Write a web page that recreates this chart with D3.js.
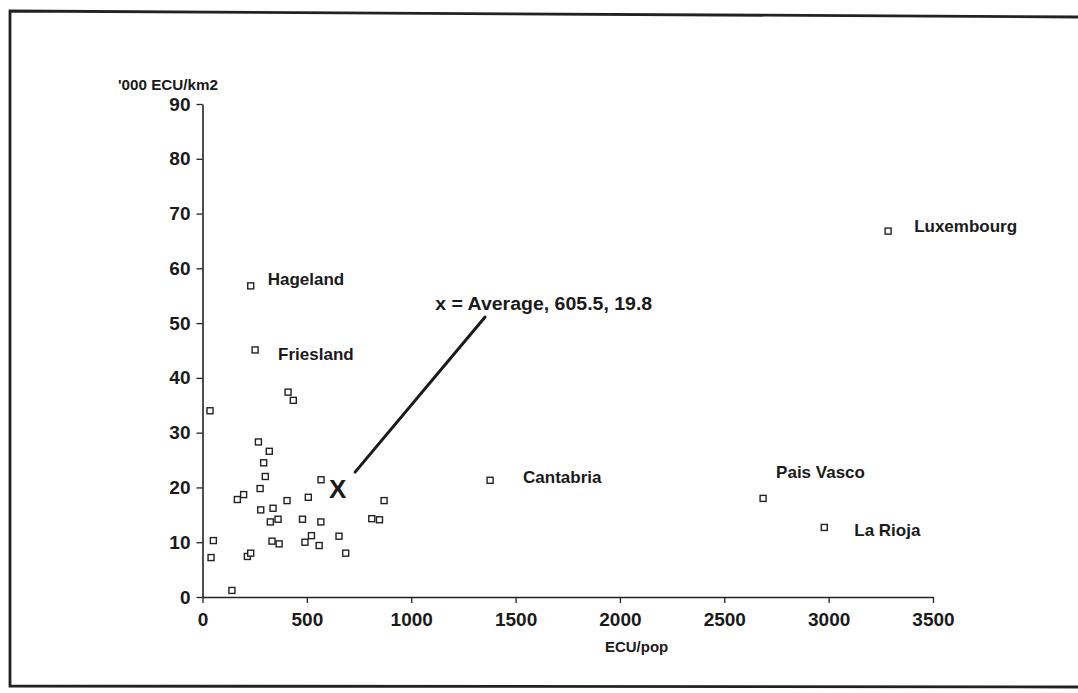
<!DOCTYPE html>
<html>
<head>
<meta charset="utf-8">
<script src="https://cdn.jsdelivr.net/npm/d3@7"></script>
<style>
  html, body { margin: 0; padding: 0; background: #fff; }
  svg { display: block; }
  text { font-family: "Liberation Sans", Arial, Helvetica, sans-serif; fill: #1a1a1a; }
</style>
</head>
<body>
<svg id="chart" width="1078" height="693"></svg>
<script>
// ---- data ----
const ecuPop = [36, 410, 435, 268, 320, 293, 301, 568, 276, 167, 197, 507, 405, 870, 279, 338, 325, 362, 479, 567, 811, 848, 333, 367, 491, 522, 559, 654, 686, 52, 41, 215, 231, 141];
const ecuKm2 = [34.0, 37.4, 35.9, 28.3, 26.6, 24.5, 22.0, 21.4, 19.8, 17.8, 18.7, 18.2, 17.6, 17.6, 15.9, 16.2, 13.7, 14.2, 14.2, 13.7, 14.3, 14.1, 10.2, 9.7, 10.0, 11.2, 9.4, 11.1, 8.0, 10.3, 7.2, 7.4, 8.0, 1.2];

const namedRegions = ["Hageland", "Friesland", "Cantabria", "Pais Vasco", "La Rioja", "Luxembourg"];
const namedEcuPop  = [231, 252, 1378, 2686, 2979, 3285];
const namedEcuKm2  = [56.8, 45.1, 21.3, 18.0, 12.7, 66.8];

const average = [605.5, 19.8];
const averageText = "x = Average, 605.5, 19.8";
const averageTextAt = [1115, 52.4];
const leaderFrom = [731, 22.8];
const leaderTo = [1354, 51.1];

const xTicks = [0, 500, 1000, 1500, 2000, 2500, 3000, 3500];
const yTicks = [0, 10, 20, 30, 40, 50, 60, 70, 80, 90];
const xTitle = "ECU/pop";
const yTitle = "'000 ECU/km2";

// ---- layout ----
const svg = d3.select("#chart");
const x = d3.scaleLinear().domain([0, 3500]).range([202.5, 933]);
const y = d3.scaleLinear().domain([0, 90]).range([597, 104]);

// label offsets (px) relative to the marker
const labelOffset = {
  "Hageland":   [17, -1],
  "Friesland":  [23, 10],
  "Cantabria":  [33, 3],
  "Pais Vasco": [13, -20],
  "La Rioja":   [30, 9],
  "Luxembourg": [26, 1]
};

// frame
svg.append("path")
  .attr("d", "M1078,17 L10,11 L10,686 L1078,687")
  .attr("fill", "none")
  .attr("stroke", "#222")
  .attr("stroke-width", 2.8);

// axes
const xAxis = d3.axisBottom(x).tickValues(xTicks).tickSize(6).tickSizeOuter(0).tickPadding(5).tickFormat(d3.format("d"));
const yAxis = d3.axisLeft(y).tickValues(yTicks).tickSize(6).tickSizeOuter(0).tickPadding(6).tickFormat(d3.format("d"));

const gx = svg.append("g").attr("transform", `translate(0,${y(0)})`).call(xAxis);
const gy = svg.append("g").attr("transform", `translate(${x(0)},0)`).call(yAxis);

[gx, gy].forEach(g => {
  g.select(".domain").attr("stroke", "#222").attr("stroke-width", 1.6);
  g.selectAll(".tick line").attr("stroke", "#222").attr("stroke-width", 1.3);
  g.selectAll(".tick text")
    .attr("fill", "#1a1a1a")
    .style("font-family", "'Liberation Sans', Arial, sans-serif")
    .style("font-size", "19px")
    .style("font-weight", "bold");
});
gx.selectAll(".tick text").attr("dy", "0.95em");

// axis titles
svg.append("text")
  .attr("x", x(2080)).attr("y", 652)
  .attr("text-anchor", "middle")
  .style("font-size", "15px").style("font-weight", "bold")
  .text(xTitle);
svg.append("text")
  .attr("x", 118).attr("y", 90)
  .style("font-size", "14px").style("font-weight", "bold")
  .attr("textLength", 100).attr("lengthAdjust", "spacingAndGlyphs")
  .text(yTitle);

// unlabeled markers
const pts = ecuPop.map((v, i) => ({ x: v, y: ecuKm2[i] }));
svg.append("g").selectAll("rect").data(pts).join("rect")
  .attr("x", d => x(d.x) - 3).attr("y", d => y(d.y) - 3)
  .attr("width", 6).attr("height", 6)
  .attr("fill", "#fff").attr("stroke", "#222").attr("stroke-width", 1.4);

// named markers
const named = namedRegions.map((n, i) => ({ name: n, x: namedEcuPop[i], y: namedEcuKm2[i] }));
svg.append("g").selectAll("rect").data(named).join("rect")
  .attr("x", d => x(d.x) - 3).attr("y", d => y(d.y) - 3)
  .attr("width", 6).attr("height", 6)
  .attr("fill", "#fff").attr("stroke", "#222").attr("stroke-width", 1.4);
svg.append("g").selectAll("text").data(named).join("text")
  .attr("x", d => x(d.x) + labelOffset[d.name][0])
  .attr("y", d => y(d.y) + labelOffset[d.name][1])
  .style("font-size", "17px").style("font-weight", "bold")
  .text(d => d.name);

// average marker
svg.append("text")
  .attr("x", x(average[0])).attr("y", y(average[1]))
  .attr("dy", "0.36em")
  .style("font-size", "26px").style("font-weight", "bold")
  .text("X");

// leader line
svg.append("line")
  .attr("x1", x(leaderFrom[0])).attr("y1", y(leaderFrom[1]))
  .attr("x2", x(leaderTo[0])).attr("y2", y(leaderTo[1]))
  .attr("stroke", "#1a1a1a").attr("stroke-width", 3).attr("stroke-linecap", "round");

svg.append("text")
  .attr("x", x(averageTextAt[0])).attr("y", y(averageTextAt[1]))
  .style("font-size", "18px").style("font-weight", "bold")
  .attr("textLength", 217).attr("lengthAdjust", "spacingAndGlyphs")
  .text(averageText);
</script>
</body>
</html>
